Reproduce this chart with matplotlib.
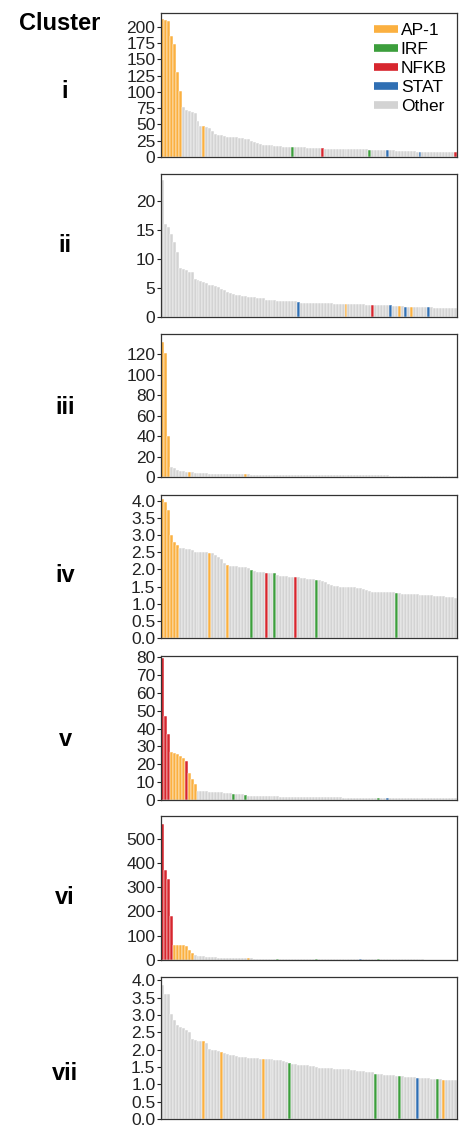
import matplotlib
matplotlib.use("Agg")
import matplotlib.pyplot as plt
from matplotlib.lines import Line2D
import numpy as np

plt.rcParams['font.family'] = ['Liberation Sans', 'DejaVu Sans']

clusters = ['i', 'ii', 'iii', 'iv', 'v', 'vi', 'vii']
families = ['AP-1', 'IRF', 'NFKB', 'STAT', 'Other']
family_colors = {'AP-1': '#fbb040', 'IRF': '#3c9e3c', 'NFKB': '#d7262e',
                 'STAT': '#2f6fb3', 'Other': '#d3d3d3'}

# enrichment values per motif, sorted, one list per cluster
vals_i = [212, 210, 208, 186, 173, 131, 101, 76, 72, 70,
          69, 68, 55, 48, 47, 46, 45, 40, 36, 34,
          33, 32, 31, 31, 30, 30, 29, 29, 28, 27,
          25, 23, 21, 20, 19, 19, 18, 18, 17, 17,
          17, 16, 16, 16, 15, 15, 15, 15, 15, 14,
          14, 14, 14, 14, 14, 13, 13, 13, 13, 13,
          13, 12, 12, 12, 12, 12, 12, 12, 12, 12,
          11, 11, 11, 10, 10, 10, 10, 10, 10, 9,
          9, 9, 9, 9, 9, 9, 8, 8, 8, 8,
          8, 8, 8, 8, 7, 7, 7, 7, 7, 7]
vals_ii = [23.6, 16.0, 15.6, 14.3, 13.0, 11.3, 8.5, 8.3, 8.2, 7.8,
           7.7, 6.5, 6.4, 6.3, 6.1, 5.9, 5.6, 5.5, 5.3, 5.2,
           4.9, 4.6, 4.3, 4.2, 3.9, 3.8, 3.8, 3.7, 3.6, 3.5,
           3.5, 3.4, 3.3, 3.2, 3.2, 3.0, 2.9, 2.9, 2.9, 2.8,
           2.8, 2.7, 2.7, 2.7, 2.7, 2.7, 2.6, 2.5, 2.5, 2.5,
           2.5, 2.5, 2.4, 2.4, 2.4, 2.4, 2.4, 2.4, 2.3, 2.3,
           2.3, 2.3, 2.3, 2.2, 2.2, 2.2, 2.2, 2.2, 2.2, 2.1,
           2.1, 2.1, 2.1, 2.0, 2.0, 2.0, 2.0, 2.0, 1.9, 1.9,
           1.9, 1.9, 1.8, 1.8, 1.8, 1.8, 1.8, 1.7, 1.7, 1.7,
           1.7, 1.7, 1.6, 1.6, 1.6, 1.6, 1.5, 1.5, 1.5, 1.5]
vals_iii = [132, 121, 40, 10, 9, 7, 6, 6, 5, 5,
            5, 4, 4, 4, 3.5, 3.5, 3, 3, 3, 3,
            3, 2.5, 2.5, 2.5, 2.5, 2.5, 2.5, 2.5, 2.5, 2.5,
            2.2, 2.2, 2.2, 2.2, 2.2, 2.1, 2.1, 2.1, 2.1, 2.1,
            2.0, 2.0, 2.0, 2.0, 2.0, 2.0, 1.9, 1.9, 1.9, 1.9,
            1.9, 1.9, 1.8, 1.8, 1.8, 1.8, 1.8, 1.8, 1.7, 1.7,
            1.7, 1.7, 1.7, 1.7, 1.6, 1.6, 1.6, 1.6, 1.6, 1.6,
            1.5, 1.5, 1.5, 1.5, 1.5, 1.5, 1.5, 1.4, 1.4, 1.4,
            1.4, 1.4, 1.4, 1.4, 1.3, 1.3, 1.3, 1.3, 1.3, 1.3,
            1.3, 1.2, 1.2, 1.2, 1.2, 1.2, 1.2, 1.1, 1.1, 1.1]
vals_iv = [4.05, 3.97, 3.73, 3.00, 2.81, 2.71, 2.62, 2.61, 2.60, 2.59,
           2.58, 2.52, 2.51, 2.51, 2.50, 2.50, 2.49, 2.47, 2.42, 2.35,
           2.30, 2.20, 2.13, 2.11, 2.10, 2.09, 2.08, 2.08, 2.07, 2.05,
           1.97, 1.95, 1.93, 1.92, 1.92, 1.91, 1.91, 1.91, 1.91, 1.85,
           1.82, 1.80, 1.80, 1.79, 1.79, 1.79, 1.78, 1.76, 1.74, 1.72,
           1.71, 1.71, 1.70, 1.68, 1.65, 1.62, 1.58, 1.55, 1.52, 1.51,
           1.50, 1.50, 1.50, 1.49, 1.49, 1.48, 1.47, 1.46, 1.43, 1.40,
           1.37, 1.35, 1.34, 1.34, 1.34, 1.34, 1.34, 1.33, 1.33, 1.31,
           1.30, 1.29, 1.29, 1.28, 1.28, 1.27, 1.27, 1.26, 1.26, 1.25,
           1.25, 1.24, 1.23, 1.23, 1.22, 1.22, 1.21, 1.20, 1.19, 1.18]
vals_v = [79.5, 47, 37, 27, 26.5, 25.5, 24.5, 23.5, 22, 15,
          12, 9, 5.2, 5.0, 4.9, 4.8, 4.7, 4.6, 4.5, 4.4,
          4.3, 4.2, 4.1, 4.0, 3.6, 3.3, 3.2, 3.1, 2.9, 2.5,
          2.4, 2.3, 2.3, 2.2, 2.2, 2.1, 2.1, 2.0, 2.0, 2.0,
          1.9, 1.9, 1.9, 1.8, 1.8, 1.8, 1.8, 1.7, 1.7, 1.7,
          1.7, 1.6, 1.6, 1.6, 1.6, 1.6, 1.5, 1.5, 1.5, 1.5,
          1.5, 1.4, 1.4, 1.4, 1.4, 1.4, 1.4, 1.3, 1.3, 1.3,
          1.3, 1.3, 1.3, 1.3, 1.2, 1.2, 1.2, 1.2, 1.2, 1.2,
          1.2, 1.1, 1.1, 1.1, 1.1, 1.1, 1.1, 1.1, 1.0, 1.0,
          1.0, 1.0, 1.0, 1.0, 1.0, 0.9, 0.9, 0.9, 0.9, 0.9]
vals_vi = [560, 370, 335, 180, 62, 62, 61, 61, 58, 40,
           28, 22, 17, 16, 15, 14, 13, 12, 11, 10,
           9.5, 9, 8.5, 8, 8, 7.5, 7.5, 7, 7, 6.5,
           6.5, 6, 6, 6, 5.5, 5.5, 5.5, 5, 5, 5,
           5, 4.8, 4.8, 4.6, 4.6, 4.4, 4.4, 4.2, 4.2, 4.0,
           4.0, 3.9, 3.8, 3.7, 3.6, 3.5, 3.5, 3.4, 3.4, 3.3,
           3.3, 3.2, 3.2, 3.1, 3.1, 3.0, 3.0, 2.9, 2.9, 2.8,
           2.8, 2.7, 2.7, 2.6, 2.6, 2.5, 2.5, 2.4, 2.4, 2.4,
           2.3, 2.3, 2.3, 2.2, 2.2, 2.2, 2.1, 2.1, 2.1, 2.0,
           2.0, 2.0, 1.9, 1.9, 1.9, 1.8, 1.8, 1.8, 1.7, 1.7]
vals_vii = [3.88, 3.62, 3.60, 3.02, 2.87, 2.72, 2.65, 2.62, 2.58, 2.50,
            2.32, 2.28, 2.25, 2.25, 2.24, 2.20, 2.02, 2.00, 1.98, 1.96,
            1.93, 1.90, 1.88, 1.86, 1.84, 1.82, 1.80, 1.79, 1.78, 1.77,
            1.76, 1.75, 1.75, 1.74, 1.73, 1.73, 1.72, 1.72, 1.71, 1.70,
            1.69, 1.68, 1.65, 1.63, 1.60, 1.58, 1.57, 1.57, 1.56, 1.55,
            1.54, 1.52, 1.50, 1.48, 1.47, 1.47, 1.46, 1.46, 1.45, 1.45,
            1.44, 1.44, 1.43, 1.43, 1.42, 1.41, 1.40, 1.39, 1.38, 1.37,
            1.36, 1.35, 1.31, 1.30, 1.29, 1.28, 1.27, 1.27, 1.26, 1.25,
            1.24, 1.23, 1.22, 1.21, 1.21, 1.20, 1.19, 1.18, 1.18, 1.17,
            1.17, 1.16, 1.16, 1.15, 1.15, 1.14, 1.13, 1.13, 1.12, 1.12]

# which ranks belong to a highlighted motif family
ap1_idx = [[0, 1, 2, 3, 4, 5, 6, 14], [62, 80, 84], [0, 1, 2, 9, 28],
           [0, 1, 2, 3, 4, 5, 16, 22], [3, 4, 5, 6, 7, 9, 10, 11],
           [4, 5, 6, 7, 8, 9, 10, 29], [14, 20, 34, 95]]
irf_idx = [[44, 70], [], [], [30, 38, 52, 79], [24, 28, 73], [39, 52, 73],
           [43, 72, 80, 93]]
nfkb_idx = [[54, 99], [71], [], [35, 45], [0, 1, 2, 8], [0, 1, 2, 3], []]
stat_idx = [[76, 87], [46, 77, 82, 90], [], [], [76], [67], [86]]

all_vals = [vals_i, vals_ii, vals_iii, vals_iv, vals_v, vals_vi, vals_vii]
ytops = [221, 24.7, 140, 4.17, 80.7, 593, 4.1]
ystep = [25, 5, 20, 0.5, 10, 100, 0.5]

# panel frames in pixels (top, bottom)
W, H = 459, 1126
frames = [(13, 157), (174, 317), (334, 477), (495, 638), (656, 800),
          (816, 960), (977, 1119)]
label_y = [92, 246, 408, 575, 740, 897, 1073]

fig = plt.figure(figsize=(W / 100, H / 100), dpi=100)

for k, vals in enumerate(all_vals):
    top, bot = frames[k]
    ax = fig.add_axes([161 / W, 1 - bot / H, 296 / W, (bot - top) / H])
    colors = [family_colors['Other']] * len(vals)
    for fam, idx in zip(['AP-1', 'IRF', 'NFKB', 'STAT'],
                        [ap1_idx[k], irf_idx[k], nfkb_idx[k], stat_idx[k]]):
        for j in idx:
            colors[j] = family_colors[fam]
    x = np.arange(len(vals))
    ax.bar(x, vals, width=1.0, color=colors, edgecolor='white', linewidth=0.35)
    ax.set_xlim(-0.5, len(vals) - 0.5)
    ax.set_ylim(0, ytops[k])
    ax.set_yticks(np.arange(0, ytops[k], ystep[k]))
    ax.set_xticks([])
    ax.tick_params(axis='y', direction='out', length=3, width=0.8, pad=1,
                   labelsize=12.5, colors='#222222')
    for s in ax.spines.values():
        s.set_linewidth(0.9)
        s.set_color('#333333')
    fig.text(65 / W, 1 - label_y[k] / H, clusters[k], fontsize=17,
             fontweight='bold', ha='center', va='center')

    if k == 0:
        handles = [Line2D([], [], color=family_colors[f], lw=5.5,
                          solid_capstyle='butt') for f in families]
        ax.legend(handles, families, loc='upper right', frameon=False,
                  fontsize=12.5, handlelength=1.4, handletextpad=0.15,
                  labelspacing=0.22, borderaxespad=0.1,
                  bbox_to_anchor=(0.995, 0.99))

fig.text(60 / W, 1 - 23 / H, 'Cluster', fontsize=17, fontweight='bold',
         ha='center', va='center')

fig.savefig('out.png', dpi=100)
